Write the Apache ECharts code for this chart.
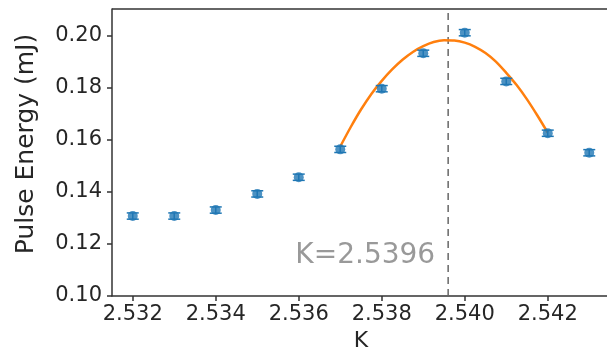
<!DOCTYPE html>
<html>
<head>
<meta charset="utf-8">
<script src="https://cdn.jsdelivr.net/npm/echarts@6/dist/echarts.min.js"></script>
<style>html,body{margin:0;padding:0;background:#fff;}#c{width:607px;height:355px;}</style>
</head>
<body>
<div id="c"></div>
<script>
// Measured data
const kValues = [2.532, 2.533, 2.534, 2.535, 2.536, 2.537, 2.538, 2.539, 2.540, 2.541, 2.542, 2.543];
const pulseEnergy = [0.1307, 0.1307, 0.1330, 0.1392, 0.1456, 0.1563, 0.1796, 0.1932, 0.2011, 0.1824, 0.1625, 0.1550];
const pulseError = [0.0012, 0.0012, 0.0012, 0.0012, 0.0012, 0.0012, 0.0012, 0.0012, 0.0012, 0.0012, 0.0012, 0.0012];
// Fit curve
const fitK = [2.53700, 2.53725, 2.53750, 2.53775, 2.53800, 2.53825, 2.53850, 2.53875, 2.53900, 2.53925, 2.53950,
              2.53975, 2.54000, 2.54025, 2.54050, 2.54075, 2.54100, 2.54125, 2.54150, 2.54175, 2.54200];
const fitE = [0.1574, 0.1648, 0.1716, 0.1776, 0.1826, 0.1870, 0.1907, 0.1937, 0.1959, 0.1975, 0.1982,
              0.1981, 0.1973, 0.1957, 0.1933, 0.1900, 0.1857, 0.1810, 0.1755, 0.1693, 0.1627];
const peakK = 2.5396;
const peakLabel = 'K=2.5396';
const xTicks = [2.532, 2.534, 2.536, 2.538, 2.540, 2.542];
const yTicks = [0.10, 0.12, 0.14, 0.16, 0.18, 0.20];
const yMin = 0.10, yMax = 0.2102;

const chart = echarts.init(document.getElementById('c'));
const axisColor = '#333';
const tickFont = {fontFamily: 'DejaVu Sans', fontSize: 21, color: '#262626'};

chart.setOption({
  animation: false,
  grid: {left: 112, top: 9, bottom: 59, right: -3, containLabel: false, outerBoundsMode: 'none'},
  xAxis: {
    type: 'value', min: 2.5315, max: 2.5435,
    name: 'K', nameLocation: 'middle', nameGap: 33,
    nameTextStyle: {fontFamily: 'DejaVu Sans', fontSize: 22, color: '#262626'},
    axisLine: {show: true, lineStyle: {color: axisColor, width: 1.5}},
    axisTick: {show: true, customValues: xTicks, length: 5, lineStyle: {color: axisColor, width: 1.5}},
    axisLabel: {customValues: xTicks, formatter: v => v.toFixed(3), margin: 8, ...tickFont},
    splitLine: {show: false}
  },
  yAxis: {
    type: 'value', min: yMin, max: yMax,
    name: 'Pulse Energy (mJ)', nameLocation: 'middle', nameGap: 73,
    nameTextStyle: {fontFamily: 'DejaVu Sans', fontSize: 25, color: '#262626', padding: [0, 0, 0, 17]},
    axisLine: {show: true, lineStyle: {color: axisColor, width: 1.5}},
    axisTick: {show: true, customValues: yTicks, length: 5, lineStyle: {color: axisColor, width: 1.5}},
    axisLabel: {customValues: yTicks, formatter: v => v.toFixed(2), margin: 10, ...tickFont},
    splitLine: {show: false}
  },
  graphic: [{
    type: 'line', shape: {x1: 112, y1: 9, x2: 607, y2: 9},
    style: {stroke: axisColor, lineWidth: 1.5}
  }],
  series: [
    {
      type: 'line', data: [[peakK, yMin], [peakK, yMax]],
      symbol: 'none', silent: true, lineStyle: {color: '#666', type: [7, 5], width: 1.5}, z: 1
    },
    {
      type: 'line', data: fitK.map((k, i) => [k, fitE[i]]),
      smooth: 0.3, symbol: 'none', lineStyle: {color: '#ff7f0e', width: 2.5}, z: 2
    },
    {
      type: 'custom',
      data: kValues.map((k, i) => [k, pulseEnergy[i], pulseError[i]]),
      renderItem: function (params, api) {
        const x = api.value(0), y = api.value(1), e = api.value(2);
        const top = api.coord([x, y + e]);
        const bot = api.coord([x, y - e]);
        const hw = 6;
        const st = {stroke: '#1f77b4', lineWidth: 1.5};
        return {type: 'group', children: [
          {type: 'line', shape: {x1: top[0], y1: top[1], x2: bot[0], y2: bot[1]}, style: st},
          {type: 'line', shape: {x1: top[0] - hw, y1: top[1], x2: top[0] + hw, y2: top[1]}, style: st},
          {type: 'line', shape: {x1: bot[0] - hw, y1: bot[1], x2: bot[0] + hw, y2: bot[1]}, style: st}
        ]};
      },
      z: 3
    },
    {
      type: 'scatter', data: kValues.map((k, i) => [k, pulseEnergy[i]]),
      symbol: 'circle', symbolSize: 10, itemStyle: {color: '#1f77b4'}, z: 4
    },
    {
      type: 'scatter', data: [[peakK, 0.1154]], symbolSize: 0, silent: true,
      label: {show: true, position: 'left', distance: 13, formatter: peakLabel,
        fontFamily: 'DejaVu Sans', fontSize: 28, color: '#7f7f7f'}
    }
  ]
});
</script>
</body>
</html>
